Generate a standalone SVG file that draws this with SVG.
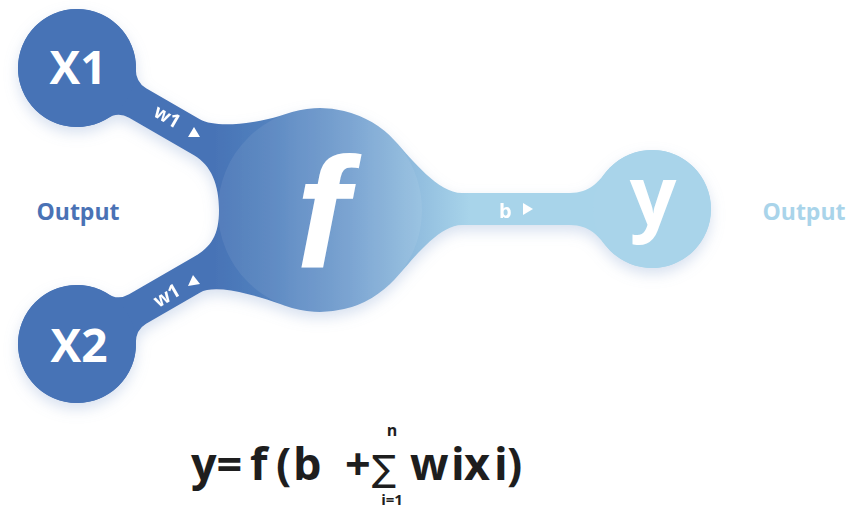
<svg xmlns="http://www.w3.org/2000/svg" width="855" height="508" viewBox="0 0 855 508">
<style>
.lbl{font-family:"Open Sans","Liberation Sans",sans-serif;font-weight:700;fill:#fff}
.out{font-family:"Open Sans","Liberation Sans",sans-serif;font-weight:700;font-size:23px;text-anchor:middle}
.eq{font-family:"Open Sans","Liberation Sans",sans-serif;font-weight:700;fill:#1e1e1e}
</style>
<defs>
<linearGradient id="body" gradientUnits="userSpaceOnUse" x1="215" y1="0" x2="470" y2="0">
<stop offset="0" stop-color="#4773b6"/>
<stop offset="0.2" stop-color="#5281be"/>
<stop offset="0.5" stop-color="#6f9bcd"/>
<stop offset="0.8" stop-color="#92bedf"/>
<stop offset="1" stop-color="#a8d4ea"/>
</linearGradient>
<filter id="sh" x="-20%" y="-20%" width="140%" height="150%">
<feDropShadow dx="0" dy="6" stdDeviation="7" flood-color="#8ea9d2" flood-opacity="0.35"/>
</filter>
</defs>
<g id="connectors" filter="url(#sh)">
<path fill="url(#body)" d="M146.1 88.3 L199.8 119.3 C217 129.3 261.5 122.6 285 114.2 A102 102 0 0 1 395 140.9 C412 159.3 438 193 462 193 L570 193 C590 193 598.5 181.4 606 172 A59 59 0 1 1 606 246 C598.5 236.6 590 225 570 225 L462 225 C438 225 412 260.7 395 279.1 A102 102 0 0 1 285 305.8 C261.5 297.2 217 282.7 199.8 292.7 L146.1 323.7 Q134.4 330.5 135.9 347.1 A59 59 0 1 1 106.5 292.9 Q117.4 301 129.1 294.3 L194 256.8 C211.3 246.8 219 235 219 210 C219 185 211.3 165.2 194 155.2 L129.1 117.7 Q117.4 111 106.5 119.1 A59 59 0 1 1 135.9 64.9 Q134.4 81.5 146.1 88.3 Z"/>
<text class="lbl" font-size="19" text-anchor="middle" transform="translate(167,117) rotate(30)" y="6">w1</text>
<polygon fill="#fff" points="194,127 200,137 188,137"/>
<text class="lbl" font-size="19" text-anchor="middle" transform="translate(167,296) rotate(-30)" y="6">w1</text>
<polygon fill="#fff" points="193,275 200,284 188,286"/>
<text class="lbl" font-size="20" x="499" y="218">b</text>
<polygon fill="#fff" points="523,203 523,215 533,209"/>
</g>
<g id="node-x1">
<circle cx="77" cy="68" r="59" fill="#4773b6"/>
<text class="lbl" font-size="46" text-anchor="middle" x="78" y="84">X1</text>
</g>
<g id="node-x2">
<circle cx="77" cy="344" r="59" fill="#4773b6"/>
<text class="lbl" font-size="46" text-anchor="middle" x="79" y="362">X2</text>
</g>
<g id="node-f">
<circle cx="320" cy="210" r="102" fill="#fff" fill-opacity="0.07"/>
<text font-family="Liberation Sans,Arial,sans-serif" font-weight="700" fill="#fff" font-size="158" font-style="italic" text-anchor="middle" x="322" y="267">f</text>
</g>
<g id="node-y">
<circle cx="652" cy="209" r="59" fill="#a9d4ea"/>
<text class="lbl" font-size="82" font-weight="600" text-anchor="middle" x="653" y="225">y</text>
</g>
<text class="out" x="78" y="220" fill="#4a72b5">Output</text>
<text class="out" x="804" y="220" fill="#a9d4ea">Output</text>
<text class="eq" font-size="45" y="480"><tspan x="191">y=</tspan><tspan x="250">f</tspan><tspan x="276">(</tspan><tspan x="293">b</tspan><tspan x="345">+</tspan><tspan x="410">w</tspan><tspan x="451">i</tspan><tspan x="464">x</tspan><tspan x="494">i</tspan><tspan x="507">)</tspan></text>
<text font-family="DejaVu Sans,sans-serif" font-size="36" fill="#1e1e1e" x="372" y="481">∑</text>
<text class="eq" font-size="16" font-weight="600" text-anchor="middle" x="392" y="436">n</text>
<text class="eq" font-size="15" font-weight="600" text-anchor="middle" x="392" y="505">i=1</text>
</svg>
